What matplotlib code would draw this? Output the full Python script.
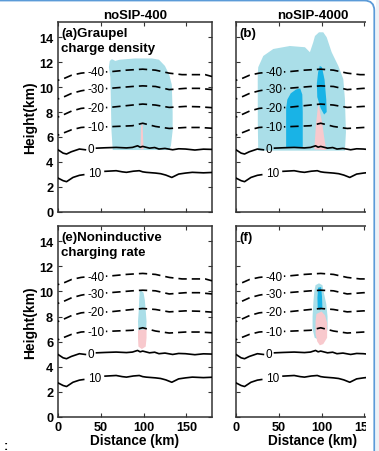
import numpy as np
import matplotlib
matplotlib.use('Agg')
import matplotlib.pyplot as plt
from matplotlib.patches import Polygon, Rectangle, FancyBboxPatch

plt.rcParams['font.family'] = ['Liberation Sans', 'DejaVu Sans']
plt.rcParams['lines.scale_dashes'] = False

# isotherms (degC): x (km), height (km); nan marks the gap left for the label
ISO_LEVELS = [-40, -30, -20, -10, 0, 10]
ISO_LABEL_X = [44, 44, 44, 44, 38, 43]
ISO_X = {
    -40: [0, 8, 16, 27, 31, np.nan, 56, 60, 80, 99, 114, 130, 145, 161, 172, 180],
    -30: [0, 8, 16, 27, 31, np.nan, 56, 60, 87, 99, 114, 130, 149, 165, 180],
    -20: [0, 8, 16, 27, 31, np.nan, 56, 60, 87, 99, 114, 130, 149, 165, 180],
    -10: [0, 8, 16, 27, 31, np.nan, 56, 60, 87, 99, 114, 130, 149, 165, 180],
    0: [0, 6, 10, 15.5, 25, 32, np.nan, 45, 55, 68, 80, 87, 93, 96, 99, 107,
        113, 118, 125, 134, 141, 149, 160, 170, 180],
    10: [0, 6, 10, 17.5, 25, 30, np.nan, 55, 68, 75, 80, 88, 95, 99, 103,
         114, 120, 126, 133, 141, 149, 157, 170, 180],
}
ISO_Z = {
    -40: [10.55, 10.72, 10.96, 11.12, 11.15, np.nan, 11.22, 11.23, 11.36,
          11.44, 11.36, 11.12, 11.0, 11.0, 11.0, 10.85],
    -30: [9.05, 9.25, 9.5, 9.7, 9.75, np.nan, 9.88, 9.9, 10.05, 10.1, 10.05,
          9.8, 9.9, 9.9, 9.8],
    -20: [7.6, 7.83, 8.08, 8.29, 8.32, np.nan, 8.36, 8.37, 8.56, 8.64, 8.56,
          8.37, 8.45, 8.42, 8.35],
    -10: [6.15, 6.36, 6.58, 6.76, 6.78, np.nan, 6.81, 6.82, 6.9, 7.1, 6.84,
          6.68, 6.76, 6.76, 6.7],
    0: [4.97, 4.7, 4.63, 4.81, 5.03, 4.97, np.nan, 5.1, 5.13, 5.16, 5.12, 5.16,
        5.29, 5.18, 5.24, 5.1, 5.15, 5.03, 5.08, 4.97, 5.05, 5.03, 4.95, 5.02,
        5.0],
    10: [2.7, 2.49, 2.41, 2.75, 2.92, 2.97, np.nan, 3.24, 3.29, 3.2, 3.16,
         3.25, 3.29, 3.2, 3.16, 3.1, 3.05, 2.94, 2.75, 3.02, 3.1, 3.16, 3.12,
         3.15],
}

# shaded regions (x km, height km)
A_CYAN = [(64, 4.95), (62.5, 6.5), (62, 8.2), (61.2, 10.8), (59.5, 11.6),
          (60.5, 12.1), (63, 12.25), (67, 12.1), (72, 12.2), (90, 12.3),
          (110, 12.3), (118, 12.2), (125, 11.7), (130, 11.0), (133, 10.2),
          (134, 8.0), (134, 6.5), (132, 5.3), (130, 4.95)]
A_PINK = [(96.5, 5.0), (97, 6.8), (98, 7.2), (99, 6.9), (100, 5.0)]

B_CYAN = [(26, 4.9), (25.5, 7.0), (25.4, 10.9), (26, 11.6), (31.9, 12.5),
          (43.6, 13.06), (63, 13.3), (80.6, 13.2), (86.4, 12.8), (90.3, 13.6),
          (92.3, 14.1), (97, 14.4), (102, 14.4), (106, 14.0), (111.8, 12.8),
          (119.6, 11.7), (125.4, 10.65), (127.3, 9.05), (128.5, 6.37),
          (127.3, 4.9)]
B_DARK1 = [(58.6, 5.2), (58.6, 8.3), (60, 9.0), (64, 9.5), (70, 9.8),
           (75, 9.9), (77.5, 9.4), (78, 8.0), (78, 5.2)]
B_DARK2 = [(98, 11.7), (100.5, 11.6), (103.5, 10.6), (105.5, 9.0), (106, 8.0),
           (103, 7.8), (99, 8.3), (95, 9.2), (94.5, 10.3), (96, 11.2)]
B_PINK = [(91.5, 5.0), (93.5, 7.0), (95.5, 8.3), (96.5, 8.6), (98.5, 7.9),
          (101, 7.0), (103, 6.0), (105.5, 4.95)]

E_CYAN = [(95.5, 10.0), (97, 10.1), (100, 9.9), (101.5, 9.3), (102.5, 8.5),
          (103.5, 7.6), (103, 6.9), (94, 6.8), (93.5, 7.6), (94.5, 8.6),
          (95, 9.5)]
E_PINK = [(93.5, 6.9), (103.5, 7.0), (103.5, 6.3), (102.5, 5.6), (98, 5.4),
          (94, 5.6), (93.5, 6.3)]

F_CYAN = [(93, 10.5), (97, 10.65), (101, 10.5), (103, 9.8), (105.5, 9.0),
          (107, 8.0), (107, 7.0), (105, 6.4), (99, 6.1), (92, 6.3),
          (89.5, 7.0), (89.5, 8.0), (90.5, 9.2), (91.5, 10.0)]
F_DARK = [(96, 10.3), (99.5, 10.35), (100.5, 9.6), (101, 8.7), (98, 8.5),
          (95.5, 8.7), (95.2, 9.5)]
F_PINK = [(94, 8.2), (100, 8.4), (104, 8.1), (106.5, 7.5), (106.5, 6.3),
          (102, 5.8), (98, 5.7), (95, 6.0), (93, 6.6), (93, 7.6)]

COL_TITLES = ['noSIP-400', 'noSIP-4000']
PANEL_LABELS = ['(a)Graupel\ncharge density', '(b)',
                '(e)Noninductive\ncharging rate', '(f)']
X_TICKS = [0, 50, 100, 150]
Y_TICKS = [0, 2, 4, 6, 8, 10, 12, 14]

LIGHT = '#aadee8'
DARK = '#19b3e6'
PINK = '#f8c9cd'

W, H = 379, 452
fig = plt.figure(figsize=(W / 100, H / 100), dpi=100)


def px_axes(left, top, bottom, width=154):
    return fig.add_axes([left / W, (H - bottom) / H, width / W,
                         (bottom - top) / H])


axes = [px_axes(58, 22.7, 212.7), px_axes(236, 22.7, 212.7),
        px_axes(58, 226.7, 417.7), px_axes(236, 226.7, 417.7)]

shapes = [
    [(A_CYAN, LIGHT), (A_PINK, PINK)],
    [(B_CYAN, LIGHT), (B_DARK1, DARK), (B_DARK2, DARK), (B_PINK, PINK)],
    [(E_CYAN, LIGHT), (E_PINK, PINK)],
    [(F_CYAN, LIGHT), (F_DARK, DARK), (F_PINK, PINK)],
]

for i, ax in enumerate(axes):
    for pts, col in shapes[i]:
        ax.add_patch(Polygon(pts, closed=True, facecolor=col,
                             edgecolor='none', zorder=1))

    for lev, lx in zip(ISO_LEVELS, ISO_LABEL_X):
        xs = np.array(ISO_X[lev], dtype=float)
        zs = np.array(ISO_Z[lev], dtype=float)
        if lev < 0:
            ax.plot(xs, zs, color='black', lw=1.2, zorder=3,
                    linestyle=(5, (6.0, 3.6)))
        else:
            ax.plot(xs, zs, color='black', lw=1.2, zorder=3)
        ok = ~np.isnan(zs)
        zl = np.interp(lx, xs[ok], zs[ok])
        ax.text(lx, zl, str(lev), fontsize=8.5, ha='center', va='center',
                zorder=4)

    ax.set_xlim(0, 180)
    ax.set_ylim(0, 15.25)
    ax.set_xticks(X_TICKS)
    ax.set_yticks(Y_TICKS)
    ax.tick_params(direction='in', top=True, right=True, length=3,
                   width=0.8, labelsize=9.2, color='#333333')
    ax.tick_params(axis='x', pad=3)
    ax.tick_params(axis='y', pad=3.5)
    for sp in ax.spines.values():
        sp.set_linewidth(1.1)
        sp.set_color('#333333')
    for lab in ax.get_xticklabels() + ax.get_yticklabels():
        lab.set_fontweight('bold')
    if i < 2:
        ax.set_xticklabels([])
        ax.set_title(COL_TITLES[i], fontsize=9.5, fontweight='bold', pad=2.5)
    else:
        ax.set_xlabel('Distance (km)', fontsize=9.8, fontweight='bold',
                      labelpad=0)
    if i % 2 == 1:
        ax.set_yticklabels([])
    else:
        ax.set_ylabel('Height(km)', fontsize=10, fontweight='bold',
                      labelpad=1)
    ax.text(0.022, 0.97, PANEL_LABELS[i], transform=ax.transAxes,
            fontsize=9.6, fontweight='bold', va='top', ha='left',
            linespacing=1.3, zorder=5)

# page frame on the right/top edge
fig.patches.append(Rectangle((366 / W, 0), 1, 1, transform=fig.transFigure,
                             facecolor='white', edgecolor='none', zorder=20))
fig.patches.append(Rectangle((375.5 / W, 0), 1, 1, transform=fig.transFigure,
                             facecolor='#eef1f5', edgecolor='none', zorder=20))
fig.patches.append(FancyBboxPatch(
    (-0.5, -0.5), 0.5 + 3.743, 0.5 + (H - 1.5) / 100,
    boxstyle='round,pad=0,rounding_size=0.1',
    transform=fig.dpi_scale_trans, facecolor='none', edgecolor='#5b9bd8',
    lw=1.3, zorder=21))

fig.text(4 / W, 1 - 447 / H, ':', fontsize=9, fontweight='bold',
         ha='left', va='center')

fig.savefig('out.png', dpi=100)
